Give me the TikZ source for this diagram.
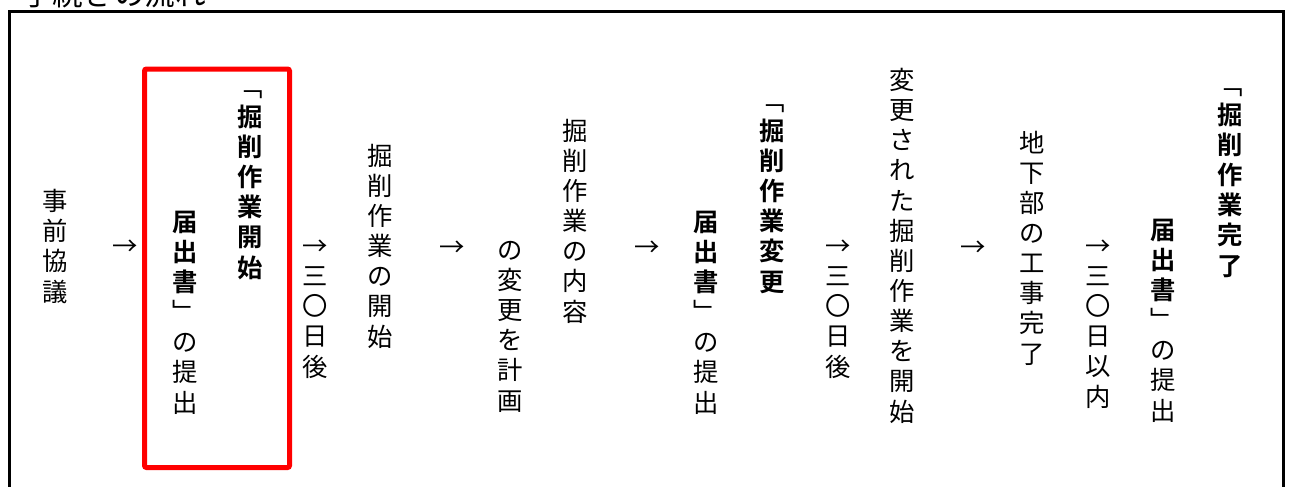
\documentclass[tikz,border=0pt]{standalone}
\usepackage{fontspec}
\setmainfont{Noto Sans CJK JP}[BoldFont={Noto Sans CJK JP Bold}]
\usepackage{tikz}

\begin{document}
\begin{tikzpicture}[x=0.75pt,y=-0.75pt,
    tate/.style={align=center, inner sep=0pt, anchor=base,
      font=\fontsize{19pt}{22.6pt}\selectfont},
    futo/.style={tate, font=\fontsize{19pt}{22.6pt}\selectfont\bfseries}]
    % Page size
    \useasboundingbox (0,0) rectangle (1292,486);

    % Title, cut off at the top edge
    \node[anchor=base west, inner sep=0pt, font=\fontsize{23pt}{23pt}\selectfont] (title) at (22,5) {手続きの流れ};

    % Outer frame (runs off the bottom)
    \draw[line width=2.25pt] (9.5,600) -- (9.5,11) -- (1283.5,11) -- (1283.5,600);

    % Highlight box
    \draw[red, line width=3.75pt, rounded corners=1.5pt] (144.5,69) rectangle (289.5,467.5);

    % Step 1 (anchored at the baseline of the last character)
    \node[tate] (kyogi) at (55,301) {事\\前\\協\\議};
    \node[tate] (ya1) at (125,255) {→};

    % Step 2 (boxed)
    \node[futo] (kaishi) at (250,277) {\mdseries﹁\\掘\\削\\作\\業\\開\\始};
    \node[tate] (todoke1) at (185,412) {\textbf{届}\\\textbf{出}\\\textbf{書}\\﹂\\の\\提\\出};

    % Step 3
    \node[tate] (nichi1) at (315,376) {→\\三\\〇\\日\\後};
    \node[tate] (chakko) at (380,346) {掘\\削\\作\\業\\の\\開\\始};
    \node[tate] (ya2) at (452,256) {→};

    % Step 4
    \node[tate] (naiyo) at (575,321) {掘\\削\\作\\業\\の\\内\\容};
    \node[tate] (keikaku) at (510,410) {の\\変\\更\\を\\計\\画};
    \node[tate] (ya3) at (647,256) {→};

    % Step 5
    \node[futo] (henko) at (772,291) {\mdseries﹁\\掘\\削\\作\\業\\変\\更};
    \node[tate] (todoke2) at (706,412) {\textbf{届}\\\textbf{出}\\\textbf{書}\\﹂\\の\\提\\出};

    % Step 6
    \node[tate] (nichi2) at (838,376) {→\\三\\〇\\日\\後};
    \node[tate] (saikai) at (902,421) {変\\更\\さ\\れ\\た\\掘\\削\\作\\業\\を\\開\\始};
    \node[tate] (ya4) at (973,256) {→};

    % Step 7
    \node[tate] (kanryo) at (1032,363) {地\\下\\部\\の\\工\\事\\完\\了};
    \node[tate] (nichi3) at (1098,406) {→\\三\\〇\\日\\以\\内};

    % Step 8
    \node[futo] (owari) at (1230,275) {\mdseries﹁\\掘\\削\\作\\業\\完\\了};
    \node[tate] (todoke3) at (1163,420) {\textbf{届}\\\textbf{出}\\\textbf{書}\\﹂\\の\\提\\出};
\end{tikzpicture}
\end{document}
